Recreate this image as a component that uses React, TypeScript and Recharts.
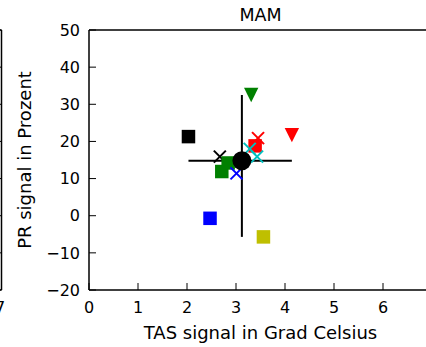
import React from "react";
import { ScatterChart, Scatter, XAxis, YAxis, ErrorBar } from "recharts";

// ── Data ─────────────────────────────────────────────────────────────────────

const tasSignal = [2.03, 3.31, 4.14, 3.45, 3.39, 3.28, 3.43, 2.67, 2.84, 2.71, 3.01, 2.47, 3.56];
const prSignal = [21.3, 32.5, 21.7, 20.9, 18.8, 18.0, 15.9, 15.9, 14.2, 11.9, 11.4, -0.7, -5.7];
const meanTas = 3.12;
const meanPr = 14.8;

const xTicks = [0, 1, 2, 3, 4, 5, 6, 7];
const yTicks = [-20, -10, 0, 10, 20, 30, 40, 50];

const MODEL_STYLE = [
  { color: "#000000", marker: "square" },
  { color: "#008000", marker: "tri" },
  { color: "#ff0000", marker: "tri" },
  { color: "#ff0000", marker: "x" },
  { color: "#ff0000", marker: "square" },
  { color: "#00bfbf", marker: "x" },
  { color: "#00bfbf", marker: "x" },
  { color: "#000000", marker: "x" },
  { color: "#008000", marker: "square" },
  { color: "#008000", marker: "square" },
  { color: "#0000ff", marker: "x" },
  { color: "#0000ff", marker: "square" },
  { color: "#bfbf00", marker: "square" },
];

// ── Layout ───────────────────────────────────────────────────────────────────

if (typeof document !== "undefined") document.body.style.margin = "0";

const FONT = "DejaVu Sans, sans-serif";
const W = 426;
const H = 347;
const CHART_W = 440;
const LEFT = 89;
const TOP = 30;
const BOTTOM = 290;
const RIGHT = 432; // x = 7 sits just past the window edge
const TICK = 7;

const errX = [meanTas - Math.min(...tasSignal), Math.max(...tasSignal) - meanTas];
const errY = [meanPr - Math.min(...prSignal), Math.max(...prSignal) - meanPr];
const meanData = [{ x: meanTas, y: meanPr, ex: errX, ey: errY }];

// ── Markers ──────────────────────────────────────────────────────────────────

function Marker({ cx, cy, kind, color }: { cx?: number; cy?: number; kind: string; color: string }) {
  if (cx == null || cy == null) return null;
  if (kind === "square") {
    const s = 6.75;
    return <rect x={cx - s} y={cy - s} width={2 * s} height={2 * s} fill={color} />;
  }
  if (kind === "tri") {
    const s = 7.2;
    return (
      <polygon
        points={`${cx - s},${cy - s} ${cx + s},${cy - s} ${cx},${cy + s}`}
        fill={color}
      />
    );
  }
  if (kind === "x") {
    const s = 6;
    return (
      <g stroke={color} strokeWidth={2}>
        <line x1={cx - s} y1={cy - s} x2={cx + s} y2={cy + s} />
        <line x1={cx - s} y1={cy + s} x2={cx + s} y2={cy - s} />
      </g>
    );
  }
  if (kind === "circle") return <circle cx={cx} cy={cy} r={9.5} fill={color} />;
  return null;
}

// ── Ticks (matplotlib classic: pointing inward) ─────────────────────────────

function BottomTick({ x, y, payload }: any) {
  return (
    <g>
      <line x1={x} x2={x} y1={y} y2={y - TICK} stroke="#000" strokeWidth={1} />
      <text x={x} y={y + 23} textAnchor="middle" fontSize={16} fontFamily={FONT} fill="#000">
        {payload.value}
      </text>
    </g>
  );
}

function TopTick({ x, y }: any) {
  return <line x1={x} x2={x} y1={y} y2={y + TICK} stroke="#000" strokeWidth={1} />;
}

function LeftTick({ x, y, payload }: any) {
  const label = payload.value < 0 ? `\u2212${Math.abs(payload.value)}` : `${payload.value}`;
  return (
    <g>
      <line x1={x} x2={x + TICK} y1={y} y2={y} stroke="#000" strokeWidth={1} />
      <text
        x={x - 9}
        y={y}
        dy="0.36em"
        textAnchor="end"
        fontSize={16}
        fontFamily={FONT}
        fill="#000"
      >
        {label}
      </text>
    </g>
  );
}

// ── Chart ────────────────────────────────────────────────────────────────────

export default function App() {
  const plotH = BOTTOM - TOP;
  return (
    <div
      style={{
        position: "relative",
        width: W,
        height: H,
        overflow: "hidden",
        background: "#fff",
      }}
    >
      <div style={{ position: "absolute", left: 0, top: 0, width: CHART_W, height: H }}>
        <ScatterChart
          width={CHART_W}
          height={H}
          margin={{ top: 0, right: CHART_W - RIGHT, bottom: 0, left: 0 }}
        >
          <XAxis
            type="number"
            dataKey="x"
            domain={[0, 7]}
            ticks={xTicks}
            allowDataOverflow
            height={H - BOTTOM}
            tickSize={0}
            tickLine={false}
            tickMargin={0}
            axisLine={{ stroke: "#000", strokeWidth: 1.5 }}
            tick={<BottomTick />}
            interval={0}
          />
          <XAxis
            xAxisId="top"
            orientation="top"
            type="number"
            domain={[0, 7]}
            ticks={xTicks}
            height={TOP}
            tickSize={0}
            tickLine={false}
            tickMargin={0}
            axisLine={{ stroke: "#000", strokeWidth: 1.5 }}
            tick={<TopTick />}
            interval={0}
          />
          <YAxis
            type="number"
            dataKey="y"
            domain={[-20, 50]}
            ticks={yTicks}
            allowDataOverflow
            width={LEFT}
            tickSize={0}
            tickLine={false}
            tickMargin={0}
            axisLine={{ stroke: "#000", strokeWidth: 1.5 }}
            tick={<LeftTick />}
            interval={0}
          />
          {/* spread of the models, drawn below the markers */}
          <Scatter data={meanData} isAnimationActive={false} shape={() => null}>
            <ErrorBar dataKey="ex" direction="x" width={0} stroke="#000" strokeWidth={2} />
            <ErrorBar dataKey="ey" direction="y" width={0} stroke="#000" strokeWidth={2} />
          </Scatter>
          {tasSignal.map((tx, i) => (
            <Scatter
              key={i}
              data={[{ x: tx, y: prSignal[i] }]}
              isAnimationActive={false}
              shape={(p: any) => (
                <Marker cx={p.cx} cy={p.cy} kind={MODEL_STYLE[i].marker} color={MODEL_STYLE[i].color} />
              )}
            />
          ))}
          <Scatter
            data={[{ x: meanTas, y: meanPr }]}
            isAnimationActive={false}
            shape={(p: any) => <Marker cx={p.cx} cy={p.cy} kind="circle" color="#000" />}
          />
        </ScatterChart>
      </div>

      {/* title, axis labels and the edge of the neighbouring panel */}
      <svg
        width={W}
        height={H}
        style={{ position: "absolute", left: 0, top: 0, pointerEvents: "none" }}
        fontFamily={FONT}
      >
        <text x={(LEFT + RIGHT) / 2} y={21} textAnchor="middle" fontSize={17.5} fill="#000">
          MAM
        </text>
        <text x={(LEFT + RIGHT) / 2} y={339} textAnchor="middle" fontSize={18} fill="#000">
          TAS signal in Grad Celsius
        </text>
        <text
          x={0}
          y={0}
          transform={`translate(31, ${TOP + plotH / 2}) rotate(-90)`}
          textAnchor="middle"
          fontSize={18}
          fill="#000"
        >
          PR signal in Prozent
        </text>
        <line x1={1.5} x2={1.5} y1={TOP} y2={BOTTOM} stroke="#000" strokeWidth={1.5} />
        <line x1={0} x2={1.5} y1={TOP} y2={TOP} stroke="#000" strokeWidth={1.5} />
        <line x1={0} x2={1.5} y1={BOTTOM} y2={BOTTOM} stroke="#000" strokeWidth={1.5} />
        {yTicks.map((t) => {
          const yy = BOTTOM - ((t + 20) / 70) * plotH;
          return <line key={t} x1={0} x2={1.5} y1={yy} y2={yy} stroke="#000" strokeWidth={1} />;
        })}
        <text x={0} y={313} textAnchor="middle" fontSize={16} fill="#000">
          7
        </text>
      </svg>
    </div>
  );
}
